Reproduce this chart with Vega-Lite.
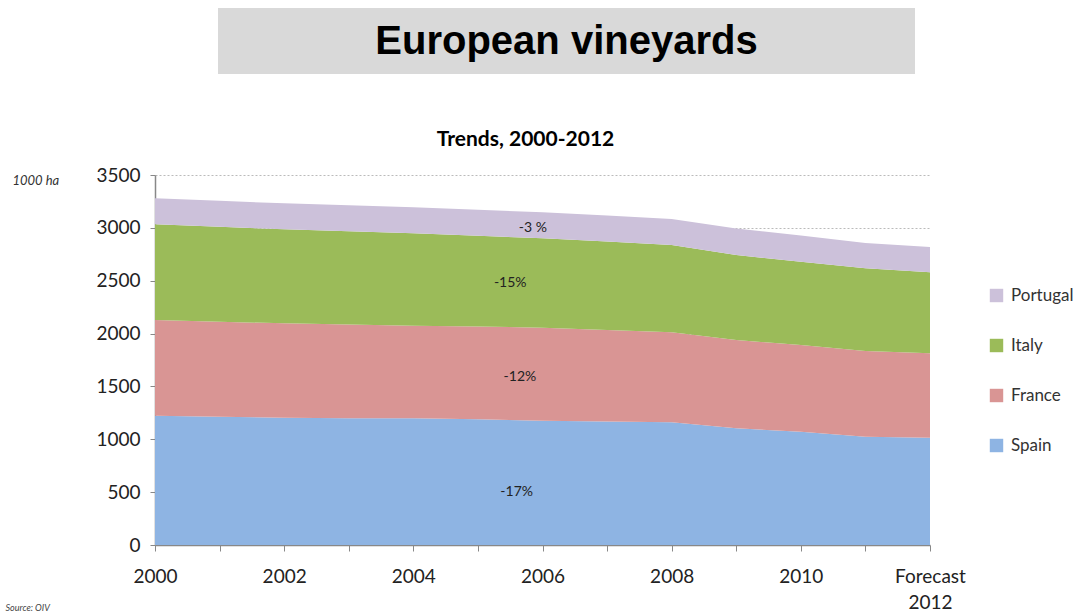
{
  "$schema": "https://vega.github.io/schema/vega-lite/v6.json",
  "padding": {"left": 5, "top": 8, "right": 2, "bottom": 2},
  "background": "white",
  "config": {
    "font": "Lato",
    "view": {"stroke": null},
    "concat": {"spacing": 0}
  },
  "datasets": {
    "vineyards": [
      {"year": 2000, "country": "Spain", "area": 1223},
      {"year": 2001, "country": "Spain", "area": 1213},
      {"year": 2002, "country": "Spain", "area": 1204},
      {"year": 2003, "country": "Spain", "area": 1200},
      {"year": 2004, "country": "Spain", "area": 1198},
      {"year": 2005, "country": "Spain", "area": 1190},
      {"year": 2006, "country": "Spain", "area": 1175},
      {"year": 2007, "country": "Spain", "area": 1168},
      {"year": 2008, "country": "Spain", "area": 1160},
      {"year": 2009, "country": "Spain", "area": 1104},
      {"year": 2010, "country": "Spain", "area": 1072},
      {"year": 2011, "country": "Spain", "area": 1025},
      {"year": 2012, "country": "Spain", "area": 1015},
      {"year": 2000, "country": "France", "area": 905},
      {"year": 2001, "country": "France", "area": 899},
      {"year": 2002, "country": "France", "area": 893},
      {"year": 2003, "country": "France", "area": 886},
      {"year": 2004, "country": "France", "area": 877},
      {"year": 2005, "country": "France", "area": 876},
      {"year": 2006, "country": "France", "area": 881},
      {"year": 2007, "country": "France", "area": 866},
      {"year": 2008, "country": "France", "area": 852},
      {"year": 2009, "country": "France", "area": 835},
      {"year": 2010, "country": "France", "area": 820},
      {"year": 2011, "country": "France", "area": 810},
      {"year": 2012, "country": "France", "area": 798},
      {"year": 2000, "country": "Italy", "area": 906},
      {"year": 2001, "country": "Italy", "area": 898},
      {"year": 2002, "country": "Italy", "area": 889},
      {"year": 2003, "country": "Italy", "area": 881},
      {"year": 2004, "country": "Italy", "area": 873},
      {"year": 2005, "country": "Italy", "area": 859},
      {"year": 2006, "country": "Italy", "area": 845},
      {"year": 2007, "country": "Italy", "area": 836},
      {"year": 2008, "country": "Italy", "area": 826},
      {"year": 2009, "country": "Italy", "area": 804},
      {"year": 2010, "country": "Italy", "area": 788},
      {"year": 2011, "country": "Italy", "area": 782},
      {"year": 2012, "country": "Italy", "area": 767},
      {"year": 2000, "country": "Portugal", "area": 246},
      {"year": 2001, "country": "Portugal", "area": 246},
      {"year": 2002, "country": "Portugal", "area": 246},
      {"year": 2003, "country": "Portugal", "area": 246},
      {"year": 2004, "country": "Portugal", "area": 246},
      {"year": 2005, "country": "Portugal", "area": 246},
      {"year": 2006, "country": "Portugal", "area": 246},
      {"year": 2007, "country": "Portugal", "area": 246},
      {"year": 2008, "country": "Portugal", "area": 246},
      {"year": 2009, "country": "Portugal", "area": 252},
      {"year": 2010, "country": "Portugal", "area": 248},
      {"year": 2011, "country": "Portugal", "area": 240},
      {"year": 2012, "country": "Portugal", "area": 239}
    ],
    "changes": [
      {"year": 2005.85, "value": 3000, "label": "-3 %"},
      {"year": 2005.5, "value": 2478, "label": "-15%"},
      {"year": 2005.65, "value": 1590, "label": "-12%"},
      {"year": 2005.6, "value": 500, "label": "-17%"}
    ],
    "heading": [{"t": "European vineyards"}],
    "blank": [{"t": ""}]
  },
  "vconcat": [
    {
      "hconcat": [
        {
          "width": 63,
          "height": 66,
          "data": {"name": "blank"},
          "mark": {"type": "text"},
          "encoding": {"text": {"field": "t"}}
        },
        {
          "width": 697,
          "height": 66,
          "view": {"fill": "#d9d9d9", "stroke": null},
          "data": {"name": "heading"},
          "mark": {"type": "text", "font": "Liberation Sans", "fontWeight": "bold", "fontSize": 40, "color": "#000000", "baseline": "middle", "align": "center", "dy": 1},
          "encoding": {"text": {"field": "t"}}
        }
      ],
      "spacing": 0,
      "bounds": "flush"
    },
    {
      "width": 775,
      "height": 370,
      "title": {
        "text": "Trends, 2000-2012",
        "font": "Lato",
        "fontSize": 21,
        "fontWeight": "bold",
        "color": "#000000",
        "offset": 16,
        "dx": -17
      },
      "layer": [
        {
          "data": {"name": "vineyards"},
          "transform": [
            {"calculate": "indexof(['Spain','France','Italy','Portugal'], datum.country)", "as": "k"}
          ],
          "mark": {"type": "area", "opacity": 1},
          "encoding": {
            "x": {
              "field": "year",
              "type": "quantitative",
              "scale": {"domain": [2000, 2012], "nice": false, "zero": false},
              "axis": {
                "values": [2000, 2001, 2002, 2003, 2004, 2005, 2006, 2007, 2008, 2009, 2010, 2011, 2012],
                "labelExpr": "datum.value == 2012 ? ['Forecast', '2012'] : (datum.value % 2 == 0 ? '' + datum.value : '')",
                "labelOverlap": false,
                "labelFontSize": 19,
                "labelColor": "#222222",
                "labelPadding": 16,
                "labelLineHeight": 26,
                "labelFlush": false,
                "grid": false,
                "domainColor": "#888888",
                "domainWidth": 1.5,
                "tickColor": "#888888",
                "tickSize": 6,
                "title": "Source: OIV",
                "titleFontSize": 9,
                "titleFontStyle": "italic",
                "titleFontWeight": "normal",
                "titleColor": "#444444",
                "titleAnchor": "start",
                "titleAlign": "left",
                "titleX": -150,
                "titleY": 58
              }
            },
            "y": {
              "field": "area",
              "type": "quantitative",
              "stack": "zero",
              "scale": {"domain": [0, 3500], "nice": false},
              "axis": {
                "values": [0, 500, 1000, 1500, 2000, 2500, 3000, 3500],
                "format": "d",
                "labelFontSize": 19,
                "labelColor": "#222222",
                "labelPadding": 10,
                "tickSize": 5,
                "tickColor": "#888888",
                "domainColor": "#888888",
                "domainWidth": 1.5,
                "grid": true,
                "gridColor": "#bbbbbb",
                "gridDash": [2, 2],
                "title": "1000 ha",
                "titleAngle": 0,
                "titleFontSize": 13,
                "titleFontStyle": "italic",
                "titleFontWeight": "normal",
                "titleColor": "#333333",
                "titleAlign": "left",
                "titleBaseline": "middle",
                "titleX": -143,
                "titleY": 5
              }
            },
            "color": {
              "field": "country",
              "type": "nominal",
              "scale": {
                "domain": ["Portugal", "Italy", "France", "Spain"],
                "range": ["#ccc1da", "#9bbb59", "#d99594", "#8eb4e3"]
              },
              "legend": {
                "title": null,
                "orient": "none",
                "legendX": 833,
                "legendY": 279,
                "symbolType": "square",
                "symbolSize": 180,
                "symbolStrokeWidth": 0,
                "symbolOpacity": 1,
                "labelFontSize": 17,
                "labelColor": "#333333",
                "rowPadding": 32,
                "labelOffset": 6
              }
            },
            "order": {"field": "k", "type": "quantitative"}
          }
        },
        {
          "data": {"name": "changes"},
          "mark": {"type": "text", "fontSize": 14, "color": "#222222", "align": "center", "baseline": "middle"},
          "encoding": {
            "x": {"field": "year", "type": "quantitative"},
            "y": {"field": "value", "type": "quantitative"},
            "text": {"field": "label"}
          }
        }
      ]
    }
  ],
  "spacing": 167,
  "bounds": "flush"
}
